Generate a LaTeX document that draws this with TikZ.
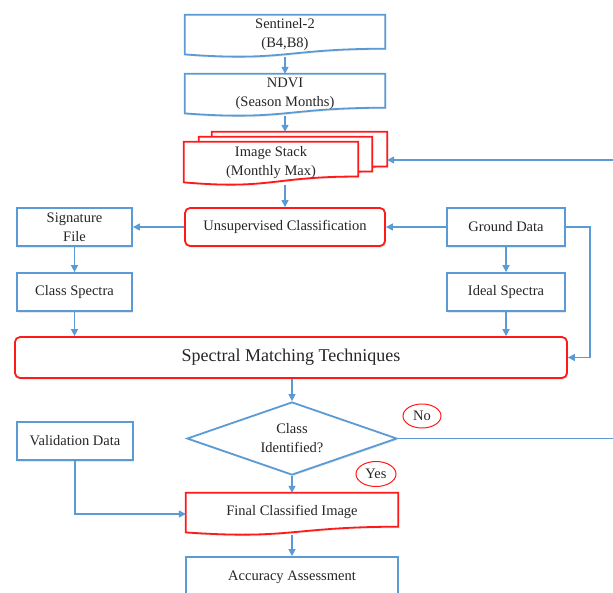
\documentclass[tikz,border=0pt]{standalone}
\usepackage{fontspec}
\setmainfont{Liberation Serif}
\usetikzlibrary{arrows.meta,shapes.geometric,calc,shadows}
\definecolor{bl}{HTML}{5B9BD5}
\definecolor{rd}{HTML}{FF1A1A}
\newcommand\docshape[2]{%
  \draw[#2] let \p1=(#1.north west), \p2=(#1.south east), \n1={\y1-\y2} in
    (\x1,\y1) -- (\x2,\y1) -- (\x2,{\y1-0.80*\n1})
    .. controls ({0.5*(\x1+\x2)},{\y1-0.80*\n1}) and ({0.5*(\x1+\x2)},{\y1-1.107*\n1})
    .. (\x1,{\y1-0.934*\n1}) -- cycle;}
\begin{document}
\begin{tikzpicture}[x=1pt,y=-1pt,
  every node/.style={font=\fontsize{14.5}{19}\selectfont, align=center, inner sep=0pt, text=black!85},
  shad/.style={drop shadow={shadow xshift=1.2pt,shadow yshift=-1.5pt,opacity=0.18}},
  bbox/.style={draw=bl, line width=1.8pt, fill=white, shad},
  rbox/.style={draw=rd, line width=1.8pt, fill=white, rounded corners=5pt, shad},
  docnode/.style={draw=none},
  bdoc/.style={draw=bl, line width=1.8pt, fill=white, shad},
  rdoc/.style={draw=rd, line width=1.8pt, fill=white, shad},
  arr/.style={draw=bl, line width=1.4pt, -{Triangle[width=7pt,length=7pt]}},
  conn/.style={draw=bl, line width=1.4pt},
  ell/.style={ellipse, draw=rd, line width=1pt, fill=white},
]
\useasboundingbox (0,0) rectangle (613,592);

% document-shaped nodes
\node[docnode, minimum width=200, minimum height=42] (s2) at (285,36) {};
\node[docnode, minimum width=200, minimum height=42] (ndvi) at (285,95) {};
\node[docnode, minimum width=175, minimum height=43] (st3) at (299.5,153.5) {};
\node[docnode, minimum width=173, minimum height=43] (st2) at (285.5,158.5) {};
\node[docnode, minimum width=174, minimum height=43] (st1) at (271,163.5) {};
\node[docnode, minimum width=212, minimum height=42] (fin) at (292,514) {};

\docshape{s2}{bdoc}
\docshape{ndvi}{bdoc}
\docshape{st3}{rdoc}
\docshape{st2}{rdoc}
\docshape{st1}{rdoc}
\docshape{fin}{rdoc}
\node (st1t) at ([yshift=0.5pt]st1) {Image Stack\\(Monthly Max)};
\node (s2t) at ([yshift=1.5pt]s2) {Sentinel-2\\(B4,B8)};
\node (ndvit) at ([yshift=1.5pt]ndvi) {NDVI\\(Season Months)};
\node (fint) at ([yshift=2.5pt]fin) {Final Classified Image};

% boxes
\node[rbox, minimum width=200, minimum height=38] (uns) at (285,227) {Unsupervised Classification};
\node[bbox, minimum width=115, minimum height=38] (sig) at (74.5,227) {Signature\\File};
\node[bbox, minimum width=118, minimum height=38] (gd) at (506,227) {Ground Data};
\node[bbox, minimum width=115, minimum height=38] (cls) at (74.5,292) {Class Spectra};
\node[bbox, minimum width=118, minimum height=38] (ideal) at (506,292) {Ideal Spectra};
\node[rbox, minimum width=552, minimum height=41, font=\fontsize{18}{21}\selectfont] (spm) at (291,357.5) {Spectral Matching Techniques};
\node[diamond, draw=bl, line width=1.8pt, fill=white, shad, minimum width=210, minimum height=73, aspect=2.88] (dia) at (292,438.5) {Class\\Identified?};
\node[bbox, minimum width=116, minimum height=38] (val) at (75,441) {Validation Data};
\node[bbox, minimum width=212, minimum height=40] (acc) at (292,577) {Accuracy Assessment};

\node[ell, minimum width=38, minimum height=24] (no) at (422,416) {No};
\node[ell, minimum width=40, minimum height=25] (yes) at (376,474) {Yes};

% helper coordinates
\coordinate (rr) at (590,227);
\coordinate (etop) at (613,160);
\coordinate (ebot) at (613,438.5);

% connectors
\draw[arr] (s2.south) -- (ndvi.north);
\draw[arr] (ndvi.south) -- (ndvi.south |- st3.north);
\draw[arr] (uns.north |- st1.south) -- (uns.north);
\draw[arr] (uns.west) -- (sig.east);
\draw[arr] (gd.west) -- (uns.east);
\draw[arr] (gd.east) -- (rr) -- (rr |- spm.east) -- (spm.east);
\draw[arr] (sig.south) -- (cls.north);
\draw[arr] (gd.south) -- (ideal.north);
\draw[arr] (cls.south) -- (cls.south |- spm.north);
\draw[arr] (ideal.south) -- (ideal.south |- spm.north);
\draw[arr] (spm.south -| dia.north) -- (dia.north);
\draw[conn] (dia.east) -- (ebot);
\draw[arr] (etop) -- (etop -| st3.east);
\draw[arr] (dia.south) -- (fin.north);
\draw[arr] (val.south) -- (val.south |- fin.west) -- (fin.west);
\draw[arr] (fin.south) -- (acc.north);
\end{tikzpicture}
\end{document}
